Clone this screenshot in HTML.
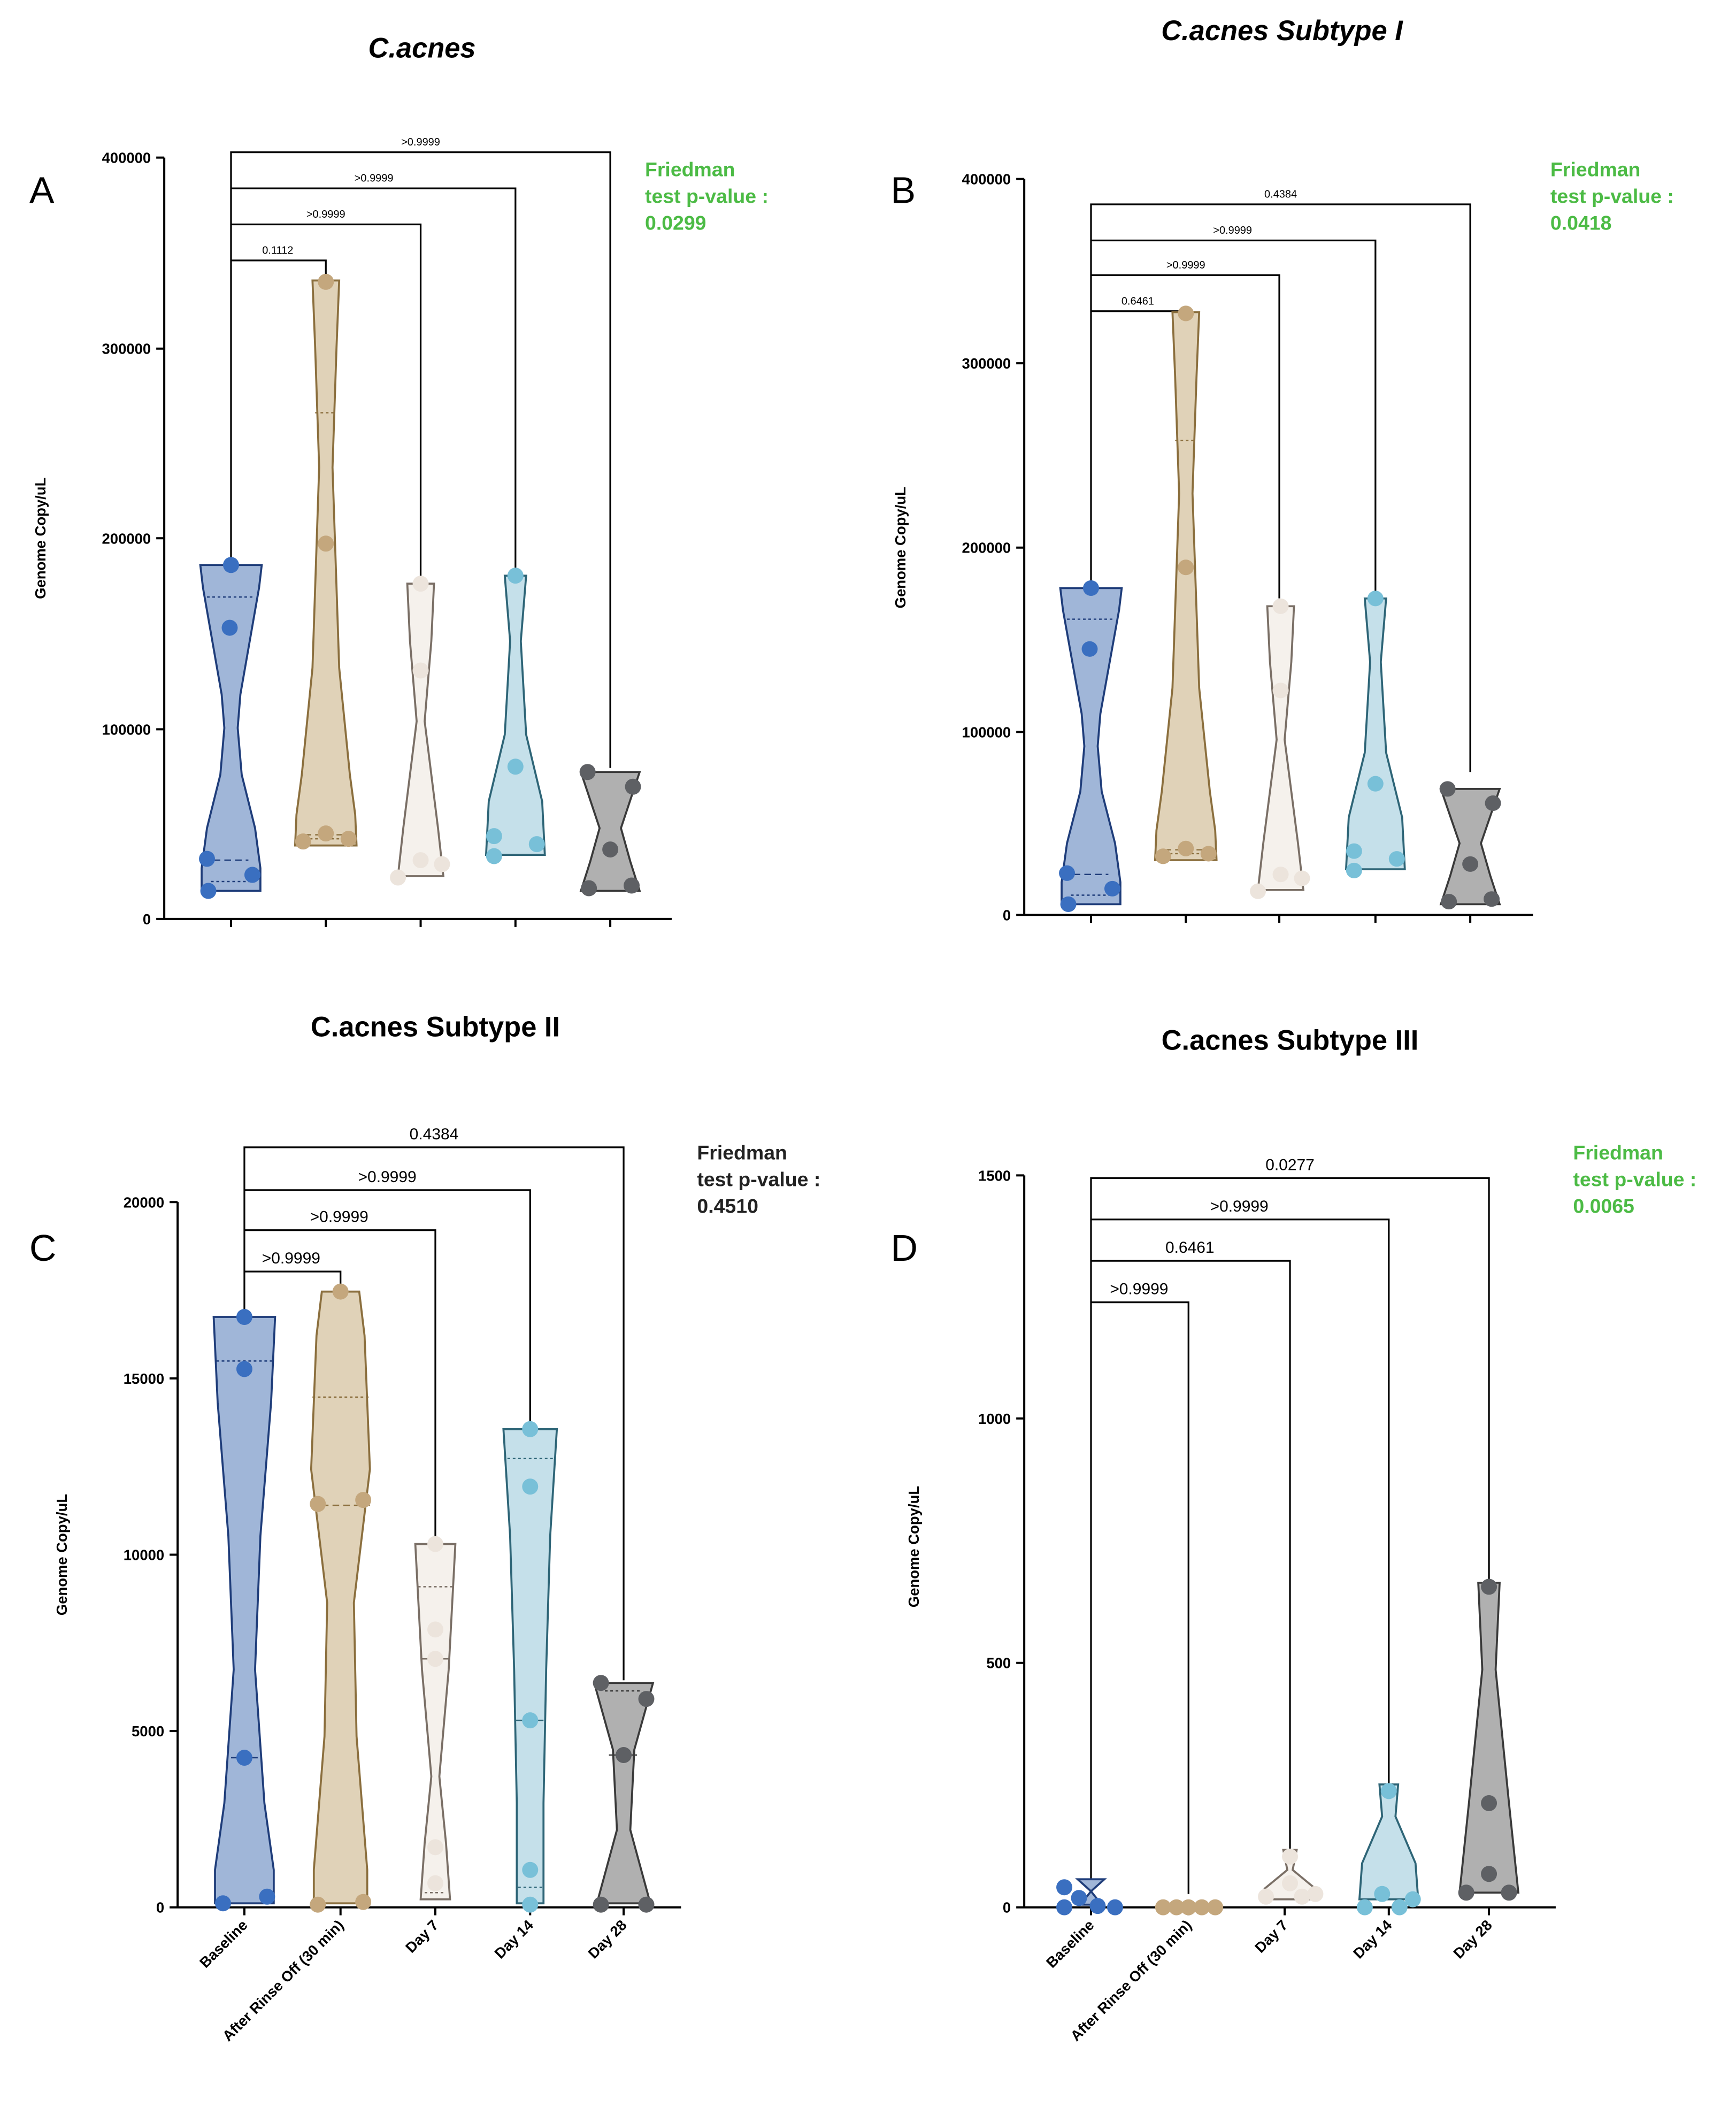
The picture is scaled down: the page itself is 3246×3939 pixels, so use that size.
<!DOCTYPE html>
<html><head><meta charset="utf-8"><style>html,body{margin:0;padding:0;background:#fff}svg{display:block}</style></head><body>
<svg xmlns="http://www.w3.org/2000/svg" width="3246" height="3939" viewBox="0 0 1300 1577.5" preserveAspectRatio="none" font-family="Liberation Sans, sans-serif">
<rect width="1300" height="1578" fill="#fff"/>
<defs>
<style>
.ax{stroke:#000;stroke-width:1.6;fill:none}
.br{stroke:#000;stroke-width:1.3;fill:none}
.b1{fill:#a0b6d8;stroke:#1f3d7a;stroke-width:1.5}
.b2{fill:#e0d2b8;stroke:#8b6f3e;stroke-width:1.5}
.b3{fill:#f5f1ec;stroke:#7a6f66;stroke-width:1.5}
.b4{fill:#c5e0ea;stroke:#2e6577;stroke-width:1.5}
.b5{fill:#b0b0b0;stroke:#3a3a3a;stroke-width:1.5}
.d1{fill:#3a6fc0}.d2{fill:#c4a77d}.d3{fill:#ece4dc}.d4{fill:#78c0d8}.d5{fill:#5e6064}
.tk{font-size:11px;font-weight:bold;text-anchor:end}
.sm{font-size:8px;text-anchor:middle}
.md{font-size:12px;text-anchor:middle}
.fg{font-size:15px;font-weight:bold;fill:#4cbb45}
.fb{font-size:15px;font-weight:bold;fill:#222}
.yl{font-size:11px;font-weight:bold;text-anchor:middle}
.tt{font-size:21px;font-weight:bold;text-anchor:middle}
.pl{font-size:28px}
.xl{font-size:11px;font-weight:bold;text-anchor:end}
</style>
</defs>

<!-- PANEL A -->
<text x="316" y="43" class="tt" font-style="italic">C.acnes</text>
<text x="22" y="152" class="pl">A</text>
<text class="yl" transform="translate(34,403) rotate(-90)">Genome Copy/uL</text>
<path class="ax" d="M123,118V688H503M117,118H123M117,261H123M117,403H123M117,546H123M117,688H123M173,688v6M244,688v6M315,688v6M386,688v6M457,688v6"/>
<text x="113" y="122" class="tk">400000</text><text x="113" y="265" class="tk">300000</text><text x="113" y="407" class="tk">200000</text><text x="113" y="550" class="tk">100000</text><text x="113" y="692" class="tk">0</text>
<path class="br" d="M173,423V114H457V575M173,141H386V425M173,168H315V432M173,195H244V208"/>
<text x="208" y="190" class="sm">0.1112</text><text x="244" y="163" class="sm">&gt;0.9999</text><text x="280" y="136" class="sm">&gt;0.9999</text><text x="315" y="109" class="sm">&gt;0.9999</text>
<text x="483" y="132" class="fg">Friedman</text><text x="483" y="152" class="fg">test p-value :</text><text x="483" y="172" class="fg">0.0299</text>
<g id="va">
<polygon class="b1" points="196,423 194,440 187,480 180,520 178,545 181,580 191,620 195,650 195,667 151,667 151,650 155,620 165,580 168,545 166,520 159,480 152,440 150,423"/>
<polygon class="b2" points="254,210 252,260 249,350 254,500 262,580 266,610 267,633 221,633 222,610 226,580 234,500 239,350 236,260 234,210"/>
<polygon class="b3" points="325,437 323,480 318,540 323,580 328,620 332,656 298,656 302,620 307,580 312,540 307,480 305,437"/>
<polygon class="b4" points="394,431 390,480 394,550 406,600 408,640 364,640 366,600 378,550 382,480 378,431"/>
<polygon class="b5" points="479,578 465,620 472,645 479,667 435,667 442,645 449,620 435,578"/>
<path stroke="#1f3d7a" stroke-dasharray="2,2" d="M155,447H191M158,660H188"/>
<path stroke="#1f3d7a" stroke-dasharray="5,3" d="M160,644H186"/>
<path stroke="#8b6f3e" stroke-dasharray="2,2" d="M236,309H252M224,628H264"/>
<path stroke="#8b6f3e" stroke-dasharray="5,3" d="M228,625H260"/>
<circle class="d1" cx="173" cy="423" r="6"/><circle class="d1" cx="172" cy="470" r="6"/><circle class="d1" cx="155" cy="643" r="6"/><circle class="d1" cx="189" cy="655" r="6"/><circle class="d1" cx="156" cy="667" r="6"/>
<circle class="d2" cx="244" cy="211" r="6"/><circle class="d2" cx="244" cy="407" r="6"/><circle class="d2" cx="244" cy="624" r="6"/><circle class="d2" cx="227" cy="630" r="6"/><circle class="d2" cx="261" cy="628" r="6"/>
<circle class="d3" cx="315" cy="437" r="6"/><circle class="d3" cx="315" cy="502" r="6"/><circle class="d3" cx="315" cy="644" r="6"/><circle class="d3" cx="298" cy="657" r="6"/><circle class="d3" cx="331" cy="647" r="6"/>
<circle class="d4" cx="386" cy="431" r="6"/><circle class="d4" cx="386" cy="574" r="6"/><circle class="d4" cx="370" cy="626" r="6"/><circle class="d4" cx="402" cy="632" r="6"/><circle class="d4" cx="370" cy="641" r="6"/>
<circle class="d5" cx="440" cy="578" r="6"/><circle class="d5" cx="474" cy="589" r="6"/><circle class="d5" cx="457" cy="636" r="6"/><circle class="d5" cx="441" cy="665" r="6"/><circle class="d5" cx="473" cy="663" r="6"/>
</g>

<!-- PANEL B -->
<text x="960" y="30" class="tt" font-style="italic">C.acnes Subtype I</text>
<text x="667" y="152" class="pl">B</text>
<text class="yl" transform="translate(678,410) rotate(-90)">Genome Copy/uL</text>
<path class="ax" d="M767,134V685H1148M761,134H767M761,272H767M761,410H767M761,548H767M761,685H767M817,685v6M888,685v6M958,685v6M1030,685v6M1101,685v6"/>
<text x="757" y="138" class="tk">400000</text><text x="757" y="276" class="tk">300000</text><text x="757" y="414" class="tk">200000</text><text x="757" y="552" class="tk">100000</text><text x="757" y="689" class="tk">0</text>
<path class="br" d="M817,441V153H1101V578M817,180H1030V448M817,206H958V448M817,233H888V248"/>
<text x="852" y="228" class="sm">0.6461</text><text x="888" y="201" class="sm">&gt;0.9999</text><text x="923" y="175" class="sm">&gt;0.9999</text><text x="959" y="148" class="sm">0.4384</text>
<text x="1161" y="132" class="fg">Friedman</text><text x="1161" y="152" class="fg">test p-value :</text><text x="1161" y="172" class="fg">0.0418</text>
<use href="#va" transform="translate(644,30) scale(1,0.97)"/>

<!-- PANEL C -->
<text x="326" y="776" class="tt">C.acnes Subtype II</text>
<text x="22" y="944" class="pl">C</text>
<text class="yl" transform="translate(50,1164) rotate(-90)">Genome Copy/uL</text>
<path class="ax" d="M133,900V1428H510M127,900H133M127,1032H133M127,1164H133M127,1296H133M127,1428H133M183,1428v6M255,1428v6M326,1428v6M397,1428v6M467,1428v6"/>
<text x="123" y="904" class="tk">20000</text><text x="123" y="1036" class="tk">15000</text><text x="123" y="1168" class="tk">10000</text><text x="123" y="1300" class="tk">5000</text><text x="123" y="1432" class="tk">0</text>
<path class="br" d="M183,985V859H467V1258M183,891H397V1068M183,921H326V1155M183,952H255V965"/>
<text x="218" y="946" class="md">&gt;0.9999</text><text x="254" y="915" class="md">&gt;0.9999</text><text x="290" y="885" class="md">&gt;0.9999</text><text x="325" y="853" class="md">0.4384</text>
<text x="522" y="868" class="fb">Friedman</text><text x="522" y="888" class="fb">test p-value :</text><text x="522" y="908" class="fb">0.4510</text>
<polygon class="b1" points="206,986 203,1050 195,1150 191,1250 198,1350 205,1400 205,1425 161,1425 161,1400 168,1350 175,1250 171,1150 163,1050 160,986"/>
<polygon class="b2" points="269,967 273,1000 277,1100 265,1200 267,1300 275,1400 275,1425 235,1425 235,1400 243,1300 245,1200 233,1100 237,1000 241,967"/>
<polygon class="b3" points="341,1156 336,1250 329,1330 334,1380 337,1422 315,1422 318,1380 323,1330 316,1250 311,1156"/>
<polygon class="b4" points="417,1070 412,1150 409,1250 407,1350 407,1425 387,1425 387,1350 385,1250 382,1150 377,1070"/>
<polygon class="b5" points="489,1260 475,1310 472,1370 487,1425 447,1425 462,1370 459,1310 445,1260"/>
<path stroke="#1f3d7a" stroke-dasharray="2,2" d="M162,1019H204"/><path stroke="#1f3d7a" stroke-dasharray="5,3" d="M173,1316H193"/>
<path stroke="#8b6f3e" stroke-dasharray="2,2" d="M234,1046H276"/><path stroke="#8b6f3e" stroke-dasharray="5,3" d="M233,1127H277"/>
<path stroke="#7a6f66" stroke-dasharray="2,2" d="M313,1188H339M318,1417H334"/><path stroke="#7a6f66" stroke-dasharray="5,3" d="M316,1242H336"/>
<path stroke="#2e6577" stroke-dasharray="2,2" d="M380,1092H414M388,1413H406"/><path stroke="#2e6577" stroke-dasharray="5,3" d="M386,1288H408"/>
<path stroke="#3a3a3a" stroke-dasharray="2,2" d="M453,1266H481"/><path stroke="#3a3a3a" stroke-dasharray="5,3" d="M456,1314H478"/>
<circle class="d1" cx="183" cy="986" r="6"/><circle class="d1" cx="183" cy="1025" r="6"/><circle class="d1" cx="183" cy="1316" r="6"/><circle class="d1" cx="167" cy="1425" r="6"/><circle class="d1" cx="200" cy="1420" r="6"/>
<circle class="d2" cx="255" cy="967" r="6"/><circle class="d2" cx="238" cy="1126" r="6"/><circle class="d2" cx="272" cy="1123" r="6"/><circle class="d2" cx="238" cy="1426" r="6"/><circle class="d2" cx="272" cy="1424" r="6"/>
<circle class="d3" cx="326" cy="1156" r="6"/><circle class="d3" cx="326" cy="1220" r="6"/><circle class="d3" cx="326" cy="1242" r="6"/><circle class="d3" cx="326" cy="1383" r="6"/><circle class="d3" cx="326" cy="1410" r="6"/>
<circle class="d4" cx="397" cy="1070" r="6"/><circle class="d4" cx="397" cy="1113" r="6"/><circle class="d4" cx="397" cy="1288" r="6"/><circle class="d4" cx="397" cy="1400" r="6"/><circle class="d4" cx="397" cy="1426" r="6"/>
<circle class="d5" cx="450" cy="1260" r="6"/><circle class="d5" cx="484" cy="1272" r="6"/><circle class="d5" cx="467" cy="1314" r="6"/><circle class="d5" cx="450" cy="1426" r="6"/><circle class="d5" cx="484" cy="1426" r="6"/>
<g class="xl">
<text transform="translate(186,1442) rotate(-45)">Baseline</text>
<text transform="translate(258,1442) rotate(-45)">After Rinse Off (30 min)</text>
<text transform="translate(329,1442) rotate(-45)">Day 7</text>
<text transform="translate(400,1442) rotate(-45)">Day 14</text>
<text transform="translate(470,1442) rotate(-45)">Day 28</text>
</g>

<!-- PANEL D -->
<text x="966" y="786" class="tt">C.acnes Subtype III</text>
<text x="667" y="944" class="pl">D</text>
<text class="yl" transform="translate(688,1158) rotate(-90)">Genome Copy/uL</text>
<path class="ax" d="M767,880V1428H1165M761,880H767M761,1062H767M761,1245H767M761,1428H767M817,1428v6M890,1428v6M962,1428v6M1040,1428v6M1115,1428v6"/>
<text x="757" y="884" class="tk">1500</text><text x="757" y="1066" class="tk">1000</text><text x="757" y="1249" class="tk">500</text><text x="757" y="1432" class="tk">0</text>
<path class="br" d="M817,1410V882H1115V1185M817,913H1040V1336M817,944H966V1385M817,975H890V1418"/>
<text x="853" y="969" class="md">&gt;0.9999</text><text x="891" y="938" class="md">0.6461</text><text x="928" y="907" class="md">&gt;0.9999</text><text x="966" y="876" class="md">0.0277</text>
<text x="1178" y="868" class="fg">Friedman</text><text x="1178" y="888" class="fg">test p-value :</text><text x="1178" y="908" class="fg">0.0065</text>
<polygon class="b1" points="807,1407 827,1407 817,1416 825,1426 809,1426 817,1416"/>
<polygon class="b3" points="971,1385 968,1400 985,1414 985,1422 947,1422 947,1414 964,1400 961,1385"/>
<polygon class="b4" points="1047,1336 1045,1360 1060,1395 1062,1422 1018,1422 1020,1395 1035,1360 1033,1336"/>
<polygon class="b5" points="1123,1185 1120,1250 1130,1350 1137,1417 1093,1417 1100,1350 1110,1250 1107,1185"/>
<circle class="d1" cx="797" cy="1413" r="6"/><circle class="d1" cx="797" cy="1428" r="6"/><circle class="d1" cx="808" cy="1421" r="6"/><circle class="d1" cx="822" cy="1427" r="6"/><circle class="d1" cx="835" cy="1428" r="6"/>
<circle class="d2" cx="871" cy="1428" r="6"/><circle class="d2" cx="881" cy="1428" r="6"/><circle class="d2" cx="890" cy="1428" r="6"/><circle class="d2" cx="900" cy="1428" r="6"/><circle class="d2" cx="910" cy="1428" r="6"/>
<circle class="d3" cx="966" cy="1390" r="6"/><circle class="d3" cx="948" cy="1420" r="6"/><circle class="d3" cx="985" cy="1418" r="6"/><circle class="d3" cx="966" cy="1410" r="6"/><circle class="d3" cx="975" cy="1420" r="6"/>
<circle class="d4" cx="1040" cy="1341" r="6"/><circle class="d4" cx="1022" cy="1428" r="6"/><circle class="d4" cx="1035" cy="1418" r="6"/><circle class="d4" cx="1048" cy="1428" r="6"/><circle class="d4" cx="1058" cy="1422" r="6"/>
<circle class="d5" cx="1115" cy="1188" r="6"/><circle class="d5" cx="1115" cy="1350" r="6"/><circle class="d5" cx="1115" cy="1403" r="6"/><circle class="d5" cx="1098" cy="1417" r="6"/><circle class="d5" cx="1130" cy="1417" r="6"/>
<g class="xl">
<text transform="translate(820,1442) rotate(-45)">Baseline</text>
<text transform="translate(893,1442) rotate(-45)">After Rinse Off (30 min)</text>
<text transform="translate(965,1442) rotate(-45)">Day 7</text>
<text transform="translate(1043,1442) rotate(-45)">Day 14</text>
<text transform="translate(1118,1442) rotate(-45)">Day 28</text>
</g>
</svg>
</body></html>
